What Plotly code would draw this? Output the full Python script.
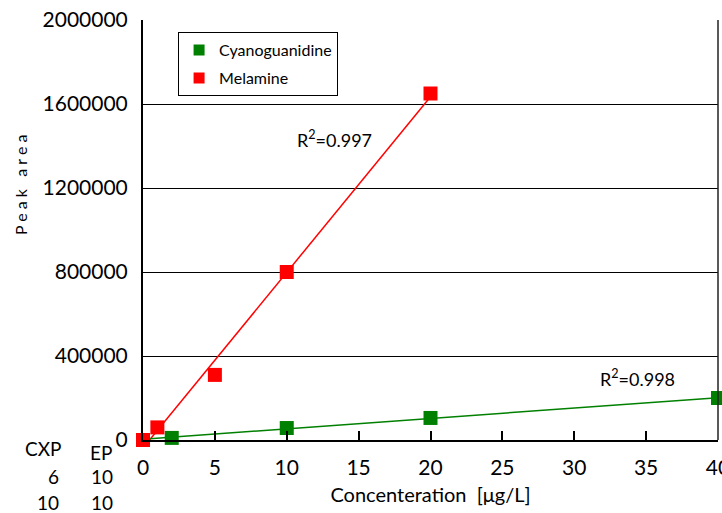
import numpy as np
import plotly.graph_objects as go

# Data
mel_x = [0, 1, 5, 10, 20]
mel_y = [0, 60000, 310000, 800000, 1650000]
cya_x = [2, 10, 20, 40]
cya_y = [10000, 57000, 105000, 200000]

x_ticks = [0, 5, 10, 15, 20, 25, 30, 35, 40]
y_ticks = [0, 400000, 800000, 1200000, 1600000, 2000000]

r2_mel = "R<sup>2</sup>=0.997"
r2_cya = "R<sup>2</sup>=0.998"

table_rows = [["CXP", "EP"], ["6", "10"], ["10", "10"]]

FONT = "Lato"
RED = "#ff0000"
GREEN = "#008000"

fig = go.Figure()

# linear trendlines computed from the data
mk = np.polyfit(mel_x, mel_y, 1)
ck = np.polyfit(cya_x, cya_y, 1)
mx = np.array([0, max(mel_x)])
cx = np.array([0, max(cya_x)])
fig.add_trace(go.Scatter(x=mx, y=np.polyval(mk, mx), mode="lines",
                         line=dict(color=RED, width=1.5), showlegend=False,
                         hoverinfo="skip"))
fig.add_trace(go.Scatter(x=cx, y=np.polyval(ck, cx), mode="lines",
                         line=dict(color=GREEN, width=1.5), showlegend=False,
                         cliponaxis=False, hoverinfo="skip"))

fig.add_trace(go.Scatter(x=cya_x, y=cya_y, mode="markers", name="Cyanoguanidine",
                         marker=dict(symbol="square", size=14, color=GREEN),
                         showlegend=False, cliponaxis=False))
fig.add_trace(go.Scatter(x=mel_x, y=mel_y, mode="markers", name="Melamine",
                         marker=dict(symbol="square", size=14, color=RED),
                         showlegend=False, cliponaxis=False))

# legend entries
fig.add_trace(go.Scatter(x=[None], y=[None], mode="markers", name="Cyanoguanidine",
                         legendgroup="a",
                         marker=dict(symbol="square", size=11, color=GREEN)))
fig.add_trace(go.Scatter(x=[None], y=[None], mode="markers", name="Melamine",
                         legendgroup="b",
                         marker=dict(symbol="square", size=11, color=RED)))

fig.update_layout(
    width=722, height=513,
    margin=dict(l=143, r=4, t=20, b=73, autoexpand=False),
    paper_bgcolor="white", plot_bgcolor="white",
    font=dict(family=FONT, color="black", size=21),
    showlegend=True,
    legend=dict(x=0.061, y=0.971, xanchor="left", yanchor="top",
                bordercolor="black", borderwidth=1, bgcolor="white",
                font=dict(size=16, family=FONT), tracegroupgap=4,
                itemwidth=30),
    xaxis=dict(range=[0, 40], tickvals=x_ticks, ticktext=[str(v) for v in x_ticks],
               showgrid=False, zeroline=False, showline=True, linecolor="black",
               linewidth=2, ticks="inside", ticklen=9, tickwidth=2, tickcolor="black",
               ticklabelstandoff=8, ticklabeloverflow="allow", automargin=False,
               title=dict(text="Concenteration  [μg/L]", font=dict(size=20), standoff=10)),
    yaxis=dict(range=[0, 2000000], tickvals=y_ticks, ticktext=[str(v) for v in y_ticks],
               showgrid=True, gridcolor="black", gridwidth=1, zeroline=False,
               showline=True, linecolor="black", linewidth=2, ticks="",
               ticklabelstandoff=9, automargin=False),
)

# right border
fig.add_shape(type="line", xref="paper", yref="paper", x0=1, x1=1, y0=0, y1=1,
              line=dict(color="#222", width=1.5))

fig.add_annotation(text="P e a k   a r e a", xref="paper", yref="paper", x=-0.214, y=0.607,
                   xanchor="center", textangle=-90, showarrow=False,
                   font=dict(size=16, family=FONT))

fig.add_annotation(text=r2_mel, x=13.3, y=1435000, showarrow=False,
                   font=dict(size=18, family=FONT))
fig.add_annotation(text=r2_cya, x=34.4, y=295000, showarrow=False,
                   font=dict(size=18, family=FONT))

# CXP / EP table
cells = {
    (0, 0): (43, 448, "center"), (0, 1): (101, 453, "center"),
    (1, 0): (61, 477, "right"), (1, 1): (115, 477, "right"),
    (2, 0): (61, 503, "right"), (2, 1): (115, 503, "right"),
}
for r, row in enumerate(table_rows):
    for c, txt in enumerate(row):
        px, py, anc = cells[(r, c)]
        fig.add_annotation(text=txt, xref="paper", yref="paper",
                           x=(px - 143) / 575, y=(440 - py) / 420,
                           xanchor=anc, yanchor="middle",
                           showarrow=False, font=dict(size=19, family=FONT))

fig.write_html("out.html", config={"displayModeBar": False},
               post_script="document.body.style.margin='0';document.body.style.overflow='hidden';")
